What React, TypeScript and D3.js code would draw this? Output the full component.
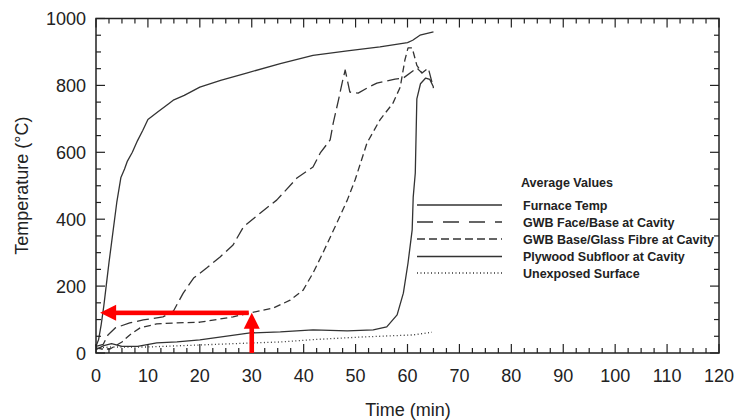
import React from "react";
import * as d3 from "d3";

// Time (min) / temperature (°C) readings for each measured location
const furnaceTime = [0, 0.5, 1, 1.5, 2, 2.5, 3, 4, 4.8, 5.5, 6, 7, 8, 9, 10, 11, 12, 14, 15, 17, 20, 24, 29, 35.5, 41.8, 48.4, 54.7, 60, 61, 62.4, 65];
const furnaceTemp = [20, 40, 85, 140, 205, 270, 330, 450, 525, 550, 572, 600, 635, 665, 698, 710, 722, 745, 757, 770, 795, 815, 837, 865, 890, 903, 915, 928, 935, 950, 960];

const gwbFaceTime = [0, 1.4, 2.3, 3.7, 6.5, 9.1, 12.9, 14.9, 16.8, 18.8, 21.3, 23.9, 26.4, 28.4, 31.6, 34.8, 38.7, 41.8, 43.2, 45.1, 45.7, 46.7, 47.4, 48, 48.9, 50.5, 52.2, 54.1, 57.6, 59.2, 61.8, 62.8, 64, 65];
const gwbFaceTemp = [20, 26, 54, 75, 90, 99, 108, 125, 179, 224, 254, 287, 323, 377, 418, 457, 523, 556, 598, 637, 688, 756, 807, 846, 780, 777, 792, 807, 819, 822, 852, 837, 852, 792];

const gwbBaseTime = [0, 1, 2.7, 5, 6.5, 8.5, 11.7, 15.6, 20, 26.4, 29.7, 34.1, 37.4, 39.9, 41.8, 43.7, 46.4, 48.4, 49.9, 52.2, 54.7, 57.2, 58.6, 59.5, 60.1, 60.9, 61.8, 62.8];
const gwbBaseTemp = [15, 12, 12, 33, 54, 75, 87, 90, 92, 108, 120, 134, 158, 188, 239, 299, 389, 457, 517, 628, 697, 747, 795, 876, 912, 912, 860, 837];

const plywoodTime = [0, 1.5, 3, 5, 8, 11.7, 15.6, 20, 29.7, 35.5, 41.8, 48.4, 53.4, 56, 58, 59.2, 60.1, 60.9, 61.1, 61.5, 61.8, 62.5, 63.5, 64.3, 65];
const plywoodTemp = [10, 22, 28, 20, 20, 30, 33, 39, 60, 63, 69, 66, 69, 78, 114, 179, 269, 368, 466, 538, 760, 805, 822, 818, 795];

const unexposedTime = [0, 3, 10, 20, 30, 35.5, 41.8, 51.4, 61, 64.7];
const unexposedTemp = [15, 18, 18, 24, 30, 33, 40, 48, 54, 62];

// Reference marker: time and temperature pointed at by the red arrows
const markerTime = 30;
const markerTemp = 120;
const markerArrowEndTime = 0.8;

const xTicks = [0, 10, 20, 30, 40, 50, 60, 70, 80, 90, 100, 110, 120];
const yTicks = [0, 200, 400, 600, 800, 1000];

const legendTitle = "Average Values";
const seriesNames = [
  "Furnace Temp",
  "GWB Face/Base at Cavity",
  "GWB Base/Glass Fibre at Cavity",
  "Plywood Subfloor at Cavity",
  "Unexposed Surface",
];

const W = 736;
const H = 420;
const left = 96;
const right = 719;
const top = 18.5;
const bottom = 353;

const FONT = "'Liberation Sans', Arial, sans-serif";
const INK = "#222";
const LINE = "#333";

export default function App() {
  const x = d3.scaleLinear().domain([0, 120]).range([left, right]);
  const y = d3.scaleLinear().domain([0, 1000]).range([bottom, top]);

  const line = d3
    .line<[number, number]>()
    .x((d) => x(d[0]))
    .y((d) => y(d[1]));

  const zip = (t: number[], v: number[]) => t.map((ti, i) => [ti, v[i]] as [number, number]);

  const series = [
    { name: seriesNames[0], data: zip(furnaceTime, furnaceTemp), dash: undefined as string | undefined, legendDash: undefined as string | undefined },
    { name: seriesNames[1], data: zip(gwbFaceTime, gwbFaceTemp), dash: "12,5", legendDash: "16,10" },
    { name: seriesNames[2], data: zip(gwbBaseTime, gwbBaseTemp), dash: "7,4", legendDash: "8,4" },
    { name: seriesNames[3], data: zip(plywoodTime, plywoodTemp), dash: undefined, legendDash: undefined },
    { name: seriesNames[4], data: zip(unexposedTime, unexposedTemp), dash: "1,2.5", legendDash: "1,2.5" },
  ];

  const xMinor = d3.range(0, 120.01, 2.5);
  const yMinor = d3.range(0, 1000.01, 50);

  const isMajorX = (v: number) => Math.abs(v % 10) < 1e-6;
  const isMajorY = (v: number) => Math.abs(v % 200) < 1e-6;

  const legendX0 = 417;
  const legendX1 = 502;
  const legendTextX = 523;
  const legendRowY = [205, 222, 239, 256.5, 273];

  const mx = x(markerTime);
  const my = y(markerTemp);
  const mEnd = x(markerArrowEndTime);
  const head = 16;
  const halfHead = 8;

  return (
    <svg
      width={W}
      height={H}
      style={{ position: "absolute", left: 0, top: 0, background: "#fff" }}
      fontFamily={FONT}
    >
      <rect x={0} y={0} width={W} height={H} fill="#fff" />

      {/* data curves */}
      {series.map((s) => (
        <path
          key={s.name}
          d={line(s.data) || ""}
          fill="none"
          stroke={LINE}
          strokeWidth={1.3}
          strokeDasharray={s.dash}
          strokeLinejoin="round"
        />
      ))}

      {/* ticks on all four sides, pointing inward */}
      {xMinor.map((v) => {
        const len = isMajorX(v) ? 9 : 5;
        return (
          <g key={"xt" + v} stroke={INK} strokeWidth={1.2}>
            <line x1={x(v)} x2={x(v)} y1={bottom} y2={bottom - len} />
            <line x1={x(v)} x2={x(v)} y1={top} y2={top + len} />
          </g>
        );
      })}
      {yMinor.map((v) => {
        const len = isMajorY(v) ? 9 : 5;
        return (
          <g key={"yt" + v} stroke={INK} strokeWidth={1.2}>
            <line x1={left} x2={left + len} y1={y(v)} y2={y(v)} />
            <line x1={right} x2={right - len} y1={y(v)} y2={y(v)} />
          </g>
        );
      })}

      {/* frame */}
      <rect x={left} y={top} width={right - left} height={bottom - top} fill="none" stroke={INK} strokeWidth={1.5} />

      {/* tick labels */}
      {xTicks.map((v) => (
        <text key={"xl" + v} x={x(v)} y={382} textAnchor="middle" fontSize={18} fill={INK}>
          {v}
        </text>
      ))}
      {yTicks.map((v) => (
        <text key={"yl" + v} x={86} y={y(v) + 6.5} textAnchor="end" fontSize={18} fill={INK}>
          {v}
        </text>
      ))}

      {/* axis titles */}
      <text x={408} y={416} textAnchor="middle" fontSize={18} fill={INK}>
        Time (min)
      </text>
      <text
        transform={`translate(28, ${(top + bottom) / 2}) rotate(-90)`}
        textAnchor="middle"
        fontSize={18}
        fill={INK}
      >
        Temperature (°C)
      </text>

      {/* legend */}
      <text x={521} y={187} fontSize={12.5} fontWeight="bold" fill={INK}>
        {legendTitle}
      </text>
      {series.map((s, i) => (
        <g key={"lg" + s.name}>
          <line
            x1={legendX0}
            x2={legendX1}
            y1={legendRowY[i]}
            y2={legendRowY[i]}
            stroke={LINE}
            strokeWidth={1.3}
            strokeDasharray={s.legendDash}
          />
          <text x={legendTextX} y={legendRowY[i] + 4.5} fontSize={12.5} fontWeight="bold" fill={INK}>
            {s.name}
          </text>
        </g>
      ))}

      {/* red marker arrows */}
      <g fill="#ff0000" stroke="none">
        <rect x={mEnd + head - 1} y={my - 2.3} width={mx - 3 - (mEnd + head - 1)} height={4.6} />
        <path d={`M${mEnd},${my} L${mEnd + head},${my - halfHead} L${mEnd + head},${my + halfHead} Z`} />
        <rect x={mx - 2.3} y={my + head - 1} width={4.6} height={bottom - (my + head - 1)} />
        <path d={`M${mx},${my} L${mx - halfHead},${my + head} L${mx + halfHead},${my + head} Z`} />
      </g>
    </svg>
  );
}
